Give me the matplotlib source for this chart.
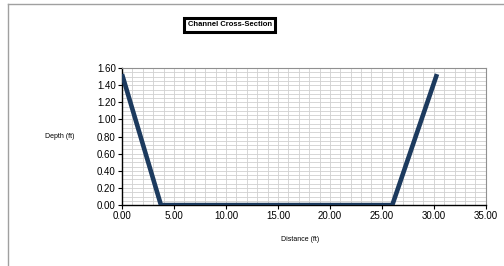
import matplotlib
matplotlib.use("Agg")
import matplotlib.pyplot as plt
import numpy as np
from matplotlib.lines import Line2D
from matplotlib.ticker import MultipleLocator

plt.rcParams['font.family'] = ['Liberation Sans', 'DejaVu Sans']

# channel geometry
distance = [0.0, 3.75, 26.0, 30.3]
depth = [1.53, 0.0, 0.0, 1.53]
x_ticks = [0, 5, 10, 15, 20, 25, 30, 35]
y_ticks = [0.0, 0.2, 0.4, 0.6, 0.8, 1.0, 1.2, 1.4, 1.6]

fig = plt.figure(figsize=(5.04, 2.66), dpi=100)
ax = fig.add_axes([0.242, 0.229, 0.722, 0.515])

ax.plot(distance, depth, color='#1c3a5e', lw=3.3, solid_capstyle='butt', zorder=3)

ax.set_xlim(0, 35)
ax.set_ylim(0, 1.6)
ax.set_xticks(x_ticks)
ax.set_yticks(y_ticks)
ax.set_xticklabels(["%.2f" % v for v in x_ticks], fontsize=7)
ax.set_yticklabels(["%.2f" % v for v in y_ticks], fontsize=7)
ax.xaxis.set_minor_locator(MultipleLocator(1))
ax.yaxis.set_minor_locator(MultipleLocator(0.05))
ax.grid(which='both', color='#d0d0d0', lw=0.6)
ax.set_axisbelow(True)
ax.tick_params(which='major', length=3, width=0.8, pad=1.5, direction='out')
ax.tick_params(which='minor', length=0)

for s in ['top', 'right']:
    ax.spines[s].set_color('#909090')
    ax.spines[s].set_linewidth(0.8)
for s in ['left', 'bottom']:
    ax.spines[s].set_color('black')
    ax.spines[s].set_linewidth(1.0)

fig.text(0.089, 0.485, "Depth (ft)", fontsize=5, ha='left', va='center')
fig.text(0.595, 0.10, "Distance (ft)", fontsize=5, ha='center', va='center')

fig.text(0.456, 0.91, "Channel Cross-Section", fontsize=5.5, fontweight='bold',
         ha='center', va='center_baseline',
         bbox=dict(boxstyle='square,pad=0.45', fc='white', ec='black', lw=2.2))

# outer frame lines
fig.add_artist(Line2D([8 / 504, 1.0], [1 - 4 / 266, 1 - 4 / 266],
                      transform=fig.transFigure, color='#a0a0a0', lw=1.0))
fig.add_artist(Line2D([8 / 504, 8 / 504], [0.0, 1 - 4 / 266],
                      transform=fig.transFigure, color='#a0a0a0', lw=1.0))

fig.savefig("out.png", dpi=100)
